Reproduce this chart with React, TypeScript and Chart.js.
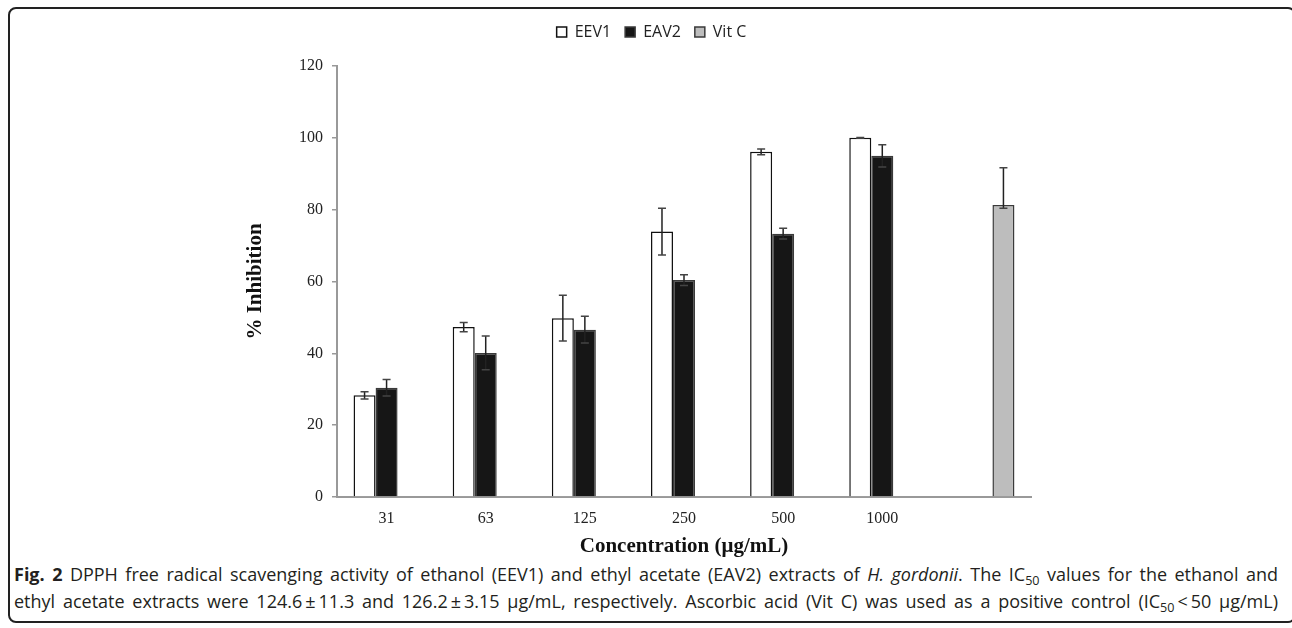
import React, { useEffect, useRef } from "react";
import { Chart, registerables } from "chart.js";

Chart.register(...registerables);

const categories = ["31", "63", "125", "250", "500", "1000", ""];
const eev1Values = [28.3, 47.3, 49.8, 73.9, 96.1, 100.0, null];
const eev1Err = [1.0, 1.3, 6.4, 6.5, 0.8, 0.1, null];
const eav2Values = [30.4, 40.1, 46.6, 60.4, 73.3, 95.0, null];
const eav2Err = [2.3, 4.7, 3.7, 1.5, 1.5, 3.1, null];
const vitCValues = [null, null, null, null, null, null, 81.3];
const vitCErrPlus = [null, null, null, null, null, null, 10.4];
const vitCErrMinus = [null, null, null, null, null, null, 0.9];
const yTicks = [0, 20, 40, 60, 80, 100, 120];

const errorBarPlugin = {
  id: "errorBars",
  afterDatasetsDraw(chart: any) {
    const ctx = chart.ctx;
    const yScale = chart.scales.y;
    chart.data.datasets.forEach((ds: any, di: number) => {
      const meta = chart.getDatasetMeta(di);
      meta.data.forEach((bar: any, i: number) => {
        const v = ds.data[i];
        if (v == null) return;
        const p = ds.errPlus[i] ?? 0;
        const m = ds.errMinus[i] ?? 0;
        const top = yScale.getPixelForValue(v + p);
        const bot = yScale.getPixelForValue(v - m);
        const x = bar.x;
        ctx.save();
        ctx.strokeStyle = "#222";
        ctx.lineWidth = 1.5;
        ctx.beginPath();
        ctx.moveTo(x, top);
        ctx.lineTo(x, bot);
        ctx.stroke();
        ctx.strokeStyle = "#444";
        ctx.lineWidth = 1.5;
        ctx.beginPath();
        ctx.moveTo(x - 4, top);
        ctx.lineTo(x + 4, top);
        ctx.moveTo(x - 4, bot);
        ctx.lineTo(x + 4, bot);
        ctx.stroke();
        ctx.restore();
      });
    });
  },
};

const legendSpacer = {
  id: "legendSpacer",
  beforeInit(chart: any) {
    const orig = chart.legend.fit;
    chart.legend.fit = function () {
      orig.call(this);
      this.height += 16;
    };
  },
};

function ChartCanvas() {
  const ref = useRef<HTMLCanvasElement | null>(null);
  useEffect(() => {
    if (!ref.current) return;
    const chart = new Chart(ref.current, {
      type: "bar",
      data: {
        labels: categories,
        datasets: [
          {
            label: "EEV1",
            data: eev1Values,
            errPlus: eev1Err,
            errMinus: eev1Err,
            backgroundColor: "#ffffff",
            borderColor: "#111111",
            borderWidth: 1.5,
          } as any,
          {
            label: "EAV2",
            data: eav2Values,
            errPlus: eav2Err,
            errMinus: eav2Err,
            backgroundColor: "#161616",
            borderColor: "#3a3a3a",
            borderWidth: 1.5,
          } as any,
          {
            label: "Vit C",
            data: vitCValues,
            errPlus: vitCErrPlus,
            errMinus: vitCErrMinus,
            backgroundColor: "#bdbdbd",
            borderColor: "#3a3a3a",
            borderWidth: 1.5,
          } as any,
        ],
      },
      options: {
        responsive: false,
        animation: false,
        layout: { padding: { left: 122, right: 119, top: 0, bottom: 0 } },
        datasets: { bar: { categoryPercentage: 0.666, barPercentage: 1.0 } },
        plugins: {
          legend: {
            display: true,
            position: "top",
            labels: {
              boxWidth: 10,
              boxHeight: 10,
              padding: 14,
              color: "#222",
              font: { family: "'Open Sans', sans-serif", size: 16 },
            },
          },
          tooltip: { enabled: false },
        },
        scales: {
          x: {
            grid: { display: false, drawTicks: false, tickLength: 0 },
            border: { display: true, color: "#999", width: 2 },
            ticks: {
              padding: 12,
              color: "#222",
              font: { family: "'Liberation Serif', serif", size: 16 },
            },
            title: {
              display: true,
              text: "Concentration (μg/mL)",
              color: "#111",
              font: { family: "'Liberation Serif', serif", size: 21, weight: "bold" },
              padding: { top: 0, bottom: 1 },
            },
            afterFit(scale: any) {
              scale.height = 63;
            },
          },
          y: {
            min: 0,
            max: 120,
            afterBuildTicks(scale: any) {
              scale.ticks = yTicks.map((v) => ({ value: v }));
            },
            grid: {
              display: true,
              drawOnChartArea: false,
              drawTicks: true,
              tickLength: 5,
              color: "#999",
              lineWidth: 1.5,
            },
            border: { display: true, color: "#999", width: 2 },
            ticks: {
              padding: 9,
              color: "#222",
              font: { family: "'Liberation Serif', serif", size: 16 },
            },
            title: {
              display: true,
              text: "% Inhibition",
              color: "#111",
              font: { family: "'Liberation Serif', serif", size: 21, weight: "bold" },
              padding: { top: -28.6, bottom: 0 },
            },
            afterFit(scale: any) {
              scale.width = 65;
            },
          },
        },
      } as any,
      plugins: [errorBarPlugin, legendSpacer],
    });
    return () => chart.destroy();
  }, []);
  return <canvas ref={ref} width={1000} height={550} style={{ position: "absolute", left: 150, top: 10 }} />;
}

const subStyle: React.CSSProperties = { fontSize: "0.7em", position: "relative", top: "0.3em", lineHeight: 0 };
const lineStyle: React.CSSProperties = {
  position: "absolute",
  left: 14,
  width: 1264,
  whiteSpace: "nowrap",
  textAlign: "justify",
  textAlignLast: "justify",
  fontFamily: "'Open Sans', sans-serif",
  fontSize: 18,
  lineHeight: "20px",
  color: "#231f20",
};

export default function App() {
  return (
    <div style={{ position: "fixed", inset: 0, overflow: "hidden", background: "#fff" }}>
      <div
        style={{
          position: "absolute",
          left: 8,
          top: 7,
          width: 1288,
          height: 616,
          border: "2px solid #222",
          borderRadius: 8,
          boxSizing: "border-box",
        }}
      />
      <ChartCanvas />
      <div style={{ ...lineStyle, top: 564 }}>
        <b>Fig. 2</b> DPPH free radical scavenging activity of ethanol (EEV1) and ethyl acetate (EAV2) extracts of{" "}
        <i>H. gordonii</i>. The IC<span style={subStyle}>50</span> values for the ethanol and
      </div>
      <div style={{ ...lineStyle, top: 591 }}>
        ethyl acetate extracts were 124.6{"\u2009±\u2009"}11.3 and 126.2{"\u2009±\u2009"}3.15 μg/mL, respectively.
        Ascorbic acid (Vit C) was used as a positive control (IC<span style={subStyle}>50</span>
        {"\u2009<\u2009"}50 μg/mL)
      </div>
    </div>
  );
}
